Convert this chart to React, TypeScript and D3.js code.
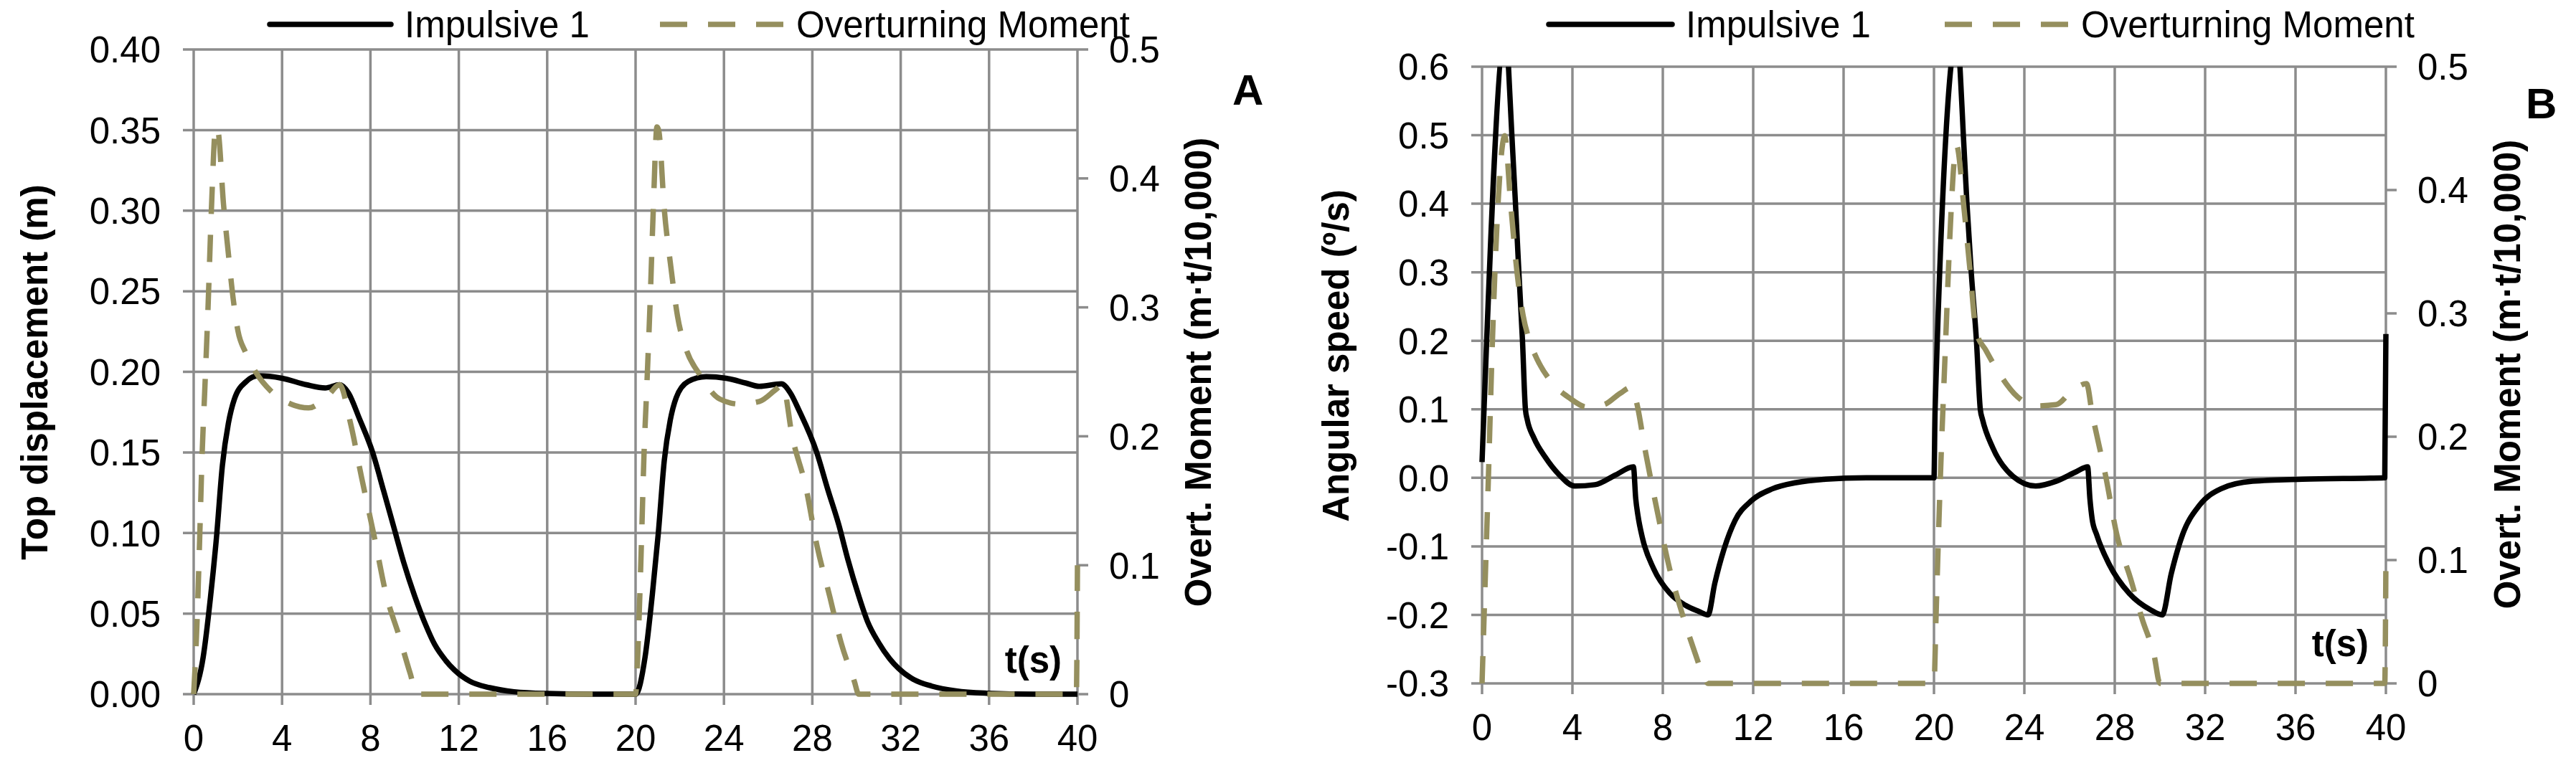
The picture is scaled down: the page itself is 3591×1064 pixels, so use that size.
import React from 'react';
import * as d3 from 'd3';

// time axis, shared by both panels
const xTicks = [0, 4, 8, 12, 16, 20, 24, 28, 32, 36, 40];

// panel A: top displacement (m), left axis
const dispTicks = [0, 0.05, 0.1, 0.15, 0.2, 0.25, 0.3, 0.35, 0.4];
const dispLabels = ['0.00', '0.05', '0.10', '0.15', '0.20', '0.25', '0.30', '0.35', '0.40'];

// panel B: angular speed (deg/s), left axis
const speedTicks = [-0.3, -0.2, -0.1, 0, 0.1, 0.2, 0.3, 0.4, 0.5, 0.6];
const speedLabels = ['-0.3', '-0.2', '-0.1', '0.0', '0.1', '0.2', '0.3', '0.4', '0.5', '0.6'];

// right axis, overturning moment (m·t/10,000)
const momentTicks = [0, 0.1, 0.2, 0.3, 0.4, 0.5];
const momentLabels = ['0', '0.1', '0.2', '0.3', '0.4', '0.5'];

// [t, value]
const displacementA: [number, number][] = [
  [0, 0], [0.43, 0.023], [0.76, 0.06], [1.03, 0.097], [1.3, 0.142], [1.57, 0.168],
  [1.84, 0.183], [2.38, 0.194], [2.92, 0.1975], [4.0, 0.196], [5.1, 0.192], [5.95, 0.19],
  [6.6, 0.192], [7.0, 0.187], [7.5, 0.171], [8.1, 0.15], [8.6, 0.126], [9.05, 0.104],
  [9.5, 0.082], [10.0, 0.061], [10.5, 0.043], [10.9, 0.031], [11.4, 0.021], [11.8, 0.015],
  [12.5, 0.008], [13.4, 0.004], [14.5, 0.0015], [16, 0.0004], [18, 0], [20, 0],
  [20.43, 0.023], [20.76, 0.062], [21.03, 0.1], [21.3, 0.145], [21.57, 0.17], [21.84, 0.184],
  [22.38, 0.194], [23.2, 0.197], [24.1, 0.196], [25.0, 0.193], [25.6, 0.191],
  [26.6, 0.1925], [27.0, 0.187], [27.4, 0.176], [28.2, 0.15], [28.7, 0.127], [29.2, 0.105],
  [29.6, 0.084], [30.1, 0.061], [30.5, 0.045], [31.0, 0.032], [31.5, 0.022], [31.9, 0.016],
  [32.6, 0.009], [33.4, 0.005], [34.5, 0.002], [35.9, 0.0006], [38, 0], [40, 0],
];

const momentA: [number, number][] = [
  [0, 0], [0.15, 0.055], [0.27, 0.12], [0.38, 0.185], [0.5, 0.235], [0.65, 0.3],
  [0.8, 0.375], [1.0, 0.44], [1.1, 0.437],
  [1.35, 0.38], [1.55, 0.345], [1.8, 0.305], [2.0, 0.282], [2.35, 0.265], [2.8, 0.25],
  [3.5, 0.235], [4.4, 0.225], [5.2, 0.222], [6.1, 0.232], [6.6, 0.24], [7.1, 0.21],
  [7.6, 0.168], [8.2, 0.12], [8.7, 0.078], [9.3, 0.045], [9.8, 0.016], [10.1, 0], [20, 0],
  [20.15, 0.055], [20.27, 0.12], [20.38, 0.185], [20.5, 0.235], [20.65, 0.3], [20.8, 0.375],
  [20.97, 0.44], [21.05, 0.437],
  [21.3, 0.376], [21.6, 0.331], [21.9, 0.293], [22.3, 0.267], [22.9, 0.248], [23.8, 0.229],
  [24.7, 0.225], [25.6, 0.227], [26.4, 0.237], [26.65, 0.24], [27.1, 0.199], [27.7, 0.161],
  [28.2, 0.116], [28.8, 0.075], [29.3, 0.04], [29.9, 0.01], [30.1, 0], [39.95, 0], [40, 0.1],
];

const speedB: [number, number][] = [
  [0, 0.023], [1.08, 0.66], [1.17, 0.6], [1.32, 0.5], [1.48, 0.4], [1.63, 0.3], [1.79, 0.2],
  [1.92, 0.1], [2.0, 0.085], [2.3, 0.058], [2.8, 0.03], [3.4, 0.005], [4.1, -0.012],
  [5.0, -0.01], [5.9, 0.004], [6.7, 0.016], [6.8, -0.03], [6.9, -0.055], [7.1, -0.088],
  [7.6, -0.133], [8.3, -0.168], [9.0, -0.186], [9.6, -0.195], [10.0, -0.2], [10.3, -0.154],
  [10.7, -0.105], [11.2, -0.062], [11.9, -0.034], [12.85, -0.016], [13.9, -0.007],
  [15.2, -0.002], [17, 0], [20, 0],
  [20.05, 0.1], [21.05, 0.65], [21.15, 0.6], [21.3, 0.5], [21.46, 0.4], [21.65, 0.3],
  [21.88, 0.2], [22.05, 0.1], [22.15, 0.085], [22.6, 0.044], [23.5, 0.002], [24.5, -0.012],
  [25.4, -0.005], [26.3, 0.009], [26.8, 0.016], [26.9, -0.03], [27.0, -0.06], [27.2, -0.083],
  [27.75, -0.126], [28.65, -0.169], [29.6, -0.193], [30.1, -0.2], [30.5, -0.14],
  [31.0, -0.083], [31.75, -0.04], [32.7, -0.016], [34.1, -0.005], [36.3, -0.002],
  [39.95, 0], [40, 0.21],
];

const momentB: [number, number][] = [
  [0, 0], [0.1, 0.06], [0.27, 0.16], [0.46, 0.278], [0.73, 0.396], [0.9, 0.436], [1.0, 0.444],
  [1.27, 0.388], [1.55, 0.333], [1.82, 0.298], [2.1, 0.278], [2.46, 0.262], [3.0, 0.246],
  [3.9, 0.231], [4.65, 0.224], [5.4, 0.226], [6.1, 0.235], [6.6, 0.24], [6.85, 0.227],
  [7.2, 0.191], [7.75, 0.14], [8.3, 0.093], [8.85, 0.057], [9.4, 0.026], [9.85, 0.004],
  [10.0, 0], [20, 0],
  [20.1, 0.06], [20.27, 0.16], [20.5, 0.27], [20.75, 0.38], [20.9, 0.425], [21.0, 0.436],
  [21.33, 0.385], [21.6, 0.334], [21.87, 0.285], [22.3, 0.27], [22.8, 0.254], [23.55, 0.235],
  [24.5, 0.225], [25.4, 0.226], [26.1, 0.237], [26.75, 0.243], [27.0, 0.219], [27.6, 0.168],
  [28.1, 0.12], [28.7, 0.085], [29.2, 0.053], [29.75, 0.022], [30.0, 0], [39.95, 0], [40, 0.1],
];

const seriesNames = ['Impulsive 1', 'Overturning Moment'];

const GRID = '#8c8c8c';
const OLIVE = '#958f5e';
const FONT = '"Liberation Sans", Arial, sans-serif';

interface PanelProps {
  id: string;
  x0: number; x1: number; yTop: number; yBot: number;
  leftDomain: [number, number];
  leftTicks: number[]; leftLabels: string[];
  leftTitle: string; leftTitleX: number; leftTitleY: number;
  rightTitleX: number; rightTitleY: number;
  letter: string; letterX: number; letterY: number;
  tsX: number; tsY: number;
  legendSolid: [number, number]; legendDash: [number, number];
  primary: [number, number][];
  moment: [number, number][];
}

const Panel: React.FC<PanelProps> = (p) => {
  const x = d3.scaleLinear().domain([0, 40]).range([p.x0, p.x1]);
  const yL = d3.scaleLinear().domain(p.leftDomain).range([p.yBot, p.yTop]);
  const yR = d3.scaleLinear().domain([0, 0.5]).range([p.yBot, p.yTop]);

  const lineL = d3.line<[number, number]>().x(d => x(d[0])).y(d => yL(d[1])).curve(d3.curveMonotoneX);
  const lineR = d3.line<[number, number]>().x(d => x(d[0])).y(d => yR(d[1])).curve(d3.curveMonotoneX);

  const clipId = `clip-${p.id}`;
  const legendY = 34;
  const textY = 52;

  return (
    <g>
      <defs>
        <clipPath id={clipId}>
          <rect x={p.x0 - 10} y={p.yTop} width={p.x1 - p.x0 + 20} height={p.yBot - p.yTop + 10} />
        </clipPath>
      </defs>

      {/* grid + ticks */}
      {xTicks.map(t => (
        <line key={`v${t}`} x1={x(t)} x2={x(t)} y1={p.yTop} y2={p.yBot + 15} stroke={GRID} strokeWidth={3.5} />
      ))}
      {p.leftTicks.map(v => (
        <line key={`h${v}`} x1={p.x0 - 15} x2={p.x1} y1={yL(v)} y2={yL(v)} stroke={GRID} strokeWidth={3.5} />
      ))}
      {momentTicks.map(v => (
        <line key={`r${v}`} x1={p.x1} x2={p.x1 + 15} y1={yR(v)} y2={yR(v)} stroke={GRID} strokeWidth={3.5} />
      ))}

      {/* series */}
      <g clipPath={`url(#${clipId})`}>
        <path d={lineL(p.primary) || ''} fill="none" stroke="#000" strokeWidth={7.5} strokeLinejoin="round" />
        <path d={lineR(p.moment) || ''} fill="none" stroke={OLIVE} strokeWidth={7.5} strokeDasharray="38 29" />
      </g>

      {/* tick labels */}
      <g fontFamily={FONT} fontSize={51} fill="#000">
        {p.leftTicks.map((v, i) => (
          <text key={`ll${v}`} x={p.x0 - 46} y={yL(v)} dy="0.36em" textAnchor="end">{p.leftLabels[i]}</text>
        ))}
        {momentTicks.map((v, i) => (
          <text key={`rl${v}`} x={p.x1 + 44} y={yR(v)} dy="0.36em" textAnchor="start">{momentLabels[i]}</text>
        ))}
        {xTicks.map(t => (
          <text key={`xl${t}`} x={x(t)} y={p.yBot + 79} textAnchor="middle">{t}</text>
        ))}
      </g>

      {/* axis titles */}
      <g fontFamily={FONT} fontSize={51} fontWeight="bold" fill="#000">
        <text transform={`translate(${p.leftTitleX},${p.leftTitleY}) rotate(-90)`} textAnchor="middle">{p.leftTitle}</text>
        <text transform={`translate(${p.rightTitleX},${p.rightTitleY}) rotate(-90)`} textAnchor="middle">Overt. Moment (m·t/10,000)</text>
        <text x={p.tsX} y={p.tsY} textAnchor="end">t(s)</text>
        <text x={p.letterX} y={p.letterY} fontSize={60}>{p.letter}</text>
      </g>

      {/* legend */}
      <line x1={p.legendSolid[0]} x2={p.legendSolid[1]} y1={legendY} y2={legendY} stroke="#000" strokeWidth={7.5} strokeLinecap="round" />
      <line x1={p.legendDash[0]} x2={p.legendDash[1]} y1={legendY} y2={legendY} stroke={OLIVE} strokeWidth={7.5} strokeDasharray="38 29" />
      <g fontFamily={FONT} fontSize={51} fill="#000">
        <text x={p.legendSolid[1] + 19} y={textY}>{seriesNames[0]}</text>
        <text x={p.legendDash[1] + 18} y={textY}>{seriesNames[1]}</text>
      </g>
    </g>
  );
};

export default function App() {
  return (
    <svg width={3591} height={1064} viewBox="0 0 3591 1064"
      style={{ position: 'absolute', left: 0, top: 0, background: '#fff' }}>
      <rect width={3591} height={1064} fill="#fff" />
      <Panel
        id="a" x0={270} x1={1502} yTop={69} yBot={968}
        leftDomain={[0, 0.4]} leftTicks={dispTicks} leftLabels={dispLabels}
        leftTitle="Top displacement (m)" leftTitleX={66} leftTitleY={519}
        rightTitleX={1688} rightTitleY={519}
        letter="A" letterX={1718} letterY={146}
        tsX={1480} tsY={938}
        legendSolid={[376, 545]} legendDash={[920, 1092]}
        primary={displacementA} moment={momentA}
      />
      <Panel
        id="b" x0={2066} x1={3326} yTop={93} yBot={953}
        leftDomain={[-0.3, 0.6]} leftTicks={speedTicks} leftLabels={speedLabels}
        leftTitle="Angular speed (º/s)" leftTitleX={1880} leftTitleY={496}
        rightTitleX={3513} rightTitleY={522}
        letter="B" letterX={3521} letterY={165}
        tsX={3302} tsY={915}
        legendSolid={[2159, 2331]} legendDash={[2711, 2883]}
        primary={speedB} moment={momentB}
      />
    </svg>
  );
}
